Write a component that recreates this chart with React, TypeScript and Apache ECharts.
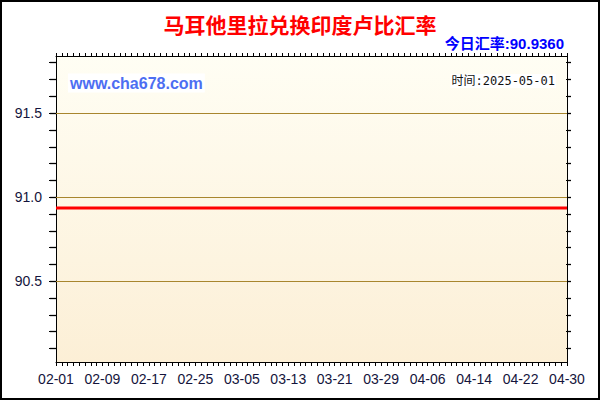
import * as echarts from "echarts";
import React, { useEffect, useRef } from "react";

// 汇率数据（每日）
const months = [
  { m: "02", days: 28 },
  { m: "03", days: 31 },
  { m: "04", days: 30 },
];
const febRates = [
  90.936, 90.936, 90.936, 90.936, 90.936, 90.936, 90.936, 90.936, 90.936, 90.936,
  90.936, 90.936, 90.936, 90.936, 90.936, 90.936, 90.936, 90.936, 90.936, 90.936,
  90.936, 90.936, 90.936, 90.936, 90.936, 90.936, 90.936, 90.936,
];
const marRates = [
  90.936, 90.936, 90.936, 90.936, 90.936, 90.936, 90.936, 90.936, 90.936, 90.936,
  90.936, 90.936, 90.936, 90.936, 90.936, 90.936, 90.936, 90.936, 90.936, 90.936,
  90.936, 90.936, 90.936, 90.936, 90.936, 90.936, 90.936, 90.936, 90.936, 90.936,
  90.936,
];
const aprRates = [
  90.936, 90.936, 90.936, 90.936, 90.936, 90.936, 90.936, 90.936, 90.936, 90.936,
  90.936, 90.936, 90.936, 90.936, 90.936, 90.936, 90.936, 90.936, 90.936, 90.936,
  90.936, 90.936, 90.936, 90.936, 90.936, 90.936, 90.936, 90.936, 90.936, 90.936,
];
const yLabelValues = [90.5, 91.0, 91.5];
const yTickValues = [
  90.1, 90.2, 90.3, 90.4, 90.5, 90.6, 90.7, 90.8, 90.9, 91.0,
  91.1, 91.2, 91.3, 91.4, 91.5, 91.6, 91.7, 91.8,
];
const yMin = 90.02;
const yMax = 91.84;

const title = "马耳他里拉兑换印度卢比汇率";
const todayRate = "今日汇率:90.9360";
const siteText = "www.cha678.com";
const timeText = "时间:2025-05-01";

const dates: string[] = [];
months.forEach(({ m, days }) => {
  for (let d = 1; d <= days; d++) dates.push(`${m}-${String(d).padStart(2, "0")}`);
});
const rates = [...febRates, ...marRates, ...aprRates];

// 左右两侧刻度用的窄网格
const tickYAxis = (gridIndex: number) => ({
  type: "value",
  gridIndex,
  min: yMin,
  max: yMax,
  axisLine: { show: false },
  axisTick: { show: true, length: 1, customValues: yTickValues, lineStyle: { color: "#000" } },
  axisLabel: { show: false },
  splitLine: { show: true, lineStyle: { color: "#000", width: 1.3 } },
});
const tickXAxis = (gridIndex: number) => ({
  type: "value",
  gridIndex,
  min: 0,
  max: 1,
  show: false,
});

export default function App() {
  const chartRef = useRef<HTMLDivElement>(null);

  useEffect(() => {
    if (!chartRef.current) return;
    const chart = echarts.init(chartRef.current, undefined, { renderer: "svg" });

    const option = {
      animation: false,
      backgroundColor: "#ffffff",
      textStyle: { fontFamily: "'Liberation Sans', Arial, sans-serif" },
      grid: [
        {
          left: 56,
          right: 33,
          top: 56,
          bottom: 38,
          show: true,
          borderWidth: 0,
          backgroundColor: new echarts.graphic.LinearGradient(0, 0, 0, 1, [
            { offset: 0, color: "#fffef4" },
            { offset: 1, color: "#fcefd6" },
          ]),
        },
        { left: 50, width: 6, top: 56, bottom: 38 },
        { left: 567, width: 4, top: 56, bottom: 38 },
      ],
      xAxis: [
        {
          type: "category",
          data: dates,
          boundaryGap: false,
          axisLine: { lineStyle: { color: "#000", width: 1 } },
          axisTick: { interval: 0, length: 4, lineStyle: { color: "#000" } },
          axisLabel: {
            interval: 7,
            margin: 10,
            fontSize: 14,
            color: "#14143c",
            fontFamily: "'Liberation Sans', Arial, sans-serif",
          },
          splitLine: { show: false },
        },
        {
          type: "category",
          data: dates,
          position: "top",
          boundaryGap: false,
          axisLine: { lineStyle: { color: "#000", width: 1 } },
          axisTick: { interval: 0, length: 3, lineStyle: { color: "#000" } },
          axisLabel: { show: false },
          splitLine: { show: false },
        },
        tickXAxis(1),
        tickXAxis(2),
      ],
      yAxis: [
        {
          type: "value",
          min: yMin,
          max: yMax,
          splitNumber: 4,
          axisLine: { show: true, lineStyle: { color: "#000", width: 1 } },
          axisTick: { show: false },
          axisLabel: {
            customValues: yLabelValues,
            formatter: (v: number) => v.toFixed(1),
            margin: 14,
            fontSize: 14,
            color: "#14143c",
            fontFamily: "'Liberation Sans', Arial, sans-serif",
          },
          splitLine: { show: false },
        },
        {
          type: "value",
          position: "right",
          min: yMin,
          max: yMax,
          splitNumber: 4,
          axisLine: { show: true, lineStyle: { color: "#000", width: 1 } },
          axisTick: { show: false },
          axisLabel: { show: false },
          splitLine: { show: false },
        },
        tickYAxis(1),
        tickYAxis(2),
      ],
      graphic: [
        {
          type: "rect",
          silent: true,
          shape: { x: 1, y: 1, width: 598, height: 398 },
          style: { fill: "none", stroke: "#000", lineWidth: 2 },
          z: 100,
        },
        {
          type: "text",
          x: 300,
          y: 24,
          style: {
            text: title,
            fill: "#ff0000",
            font: "bold 21px 'Noto Sans CJK SC', sans-serif",
            textAlign: "center",
            align: "center",
            textVerticalAlign: "middle",
            verticalAlign: "middle",
          },
        },
        {
          type: "text",
          x: 564,
          y: 43,
          style: {
            text: todayRate,
            fill: "#0000ff",
            font: "bold 15px 'Liberation Sans', 'Noto Sans CJK SC', sans-serif",
            textAlign: "right",
            align: "right",
            textVerticalAlign: "middle",
            verticalAlign: "middle",
          },
        },
        {
          type: "text",
          x: 68,
          y: 83,
          z: 10,
          style: {
            text: siteText,
            fill: "#4d6ef2",
            font: "bold 16px 'Liberation Sans', Arial, sans-serif",
            textAlign: "left",
            align: "left",
            textVerticalAlign: "middle",
            verticalAlign: "middle",
            backgroundColor: "#ffffff",
            padding: [2, 2, 1, 2],
          },
        },
        {
          type: "text",
          x: 556,
          y: 81,
          z: 10,
          style: {
            text: timeText,
            fill: "#111111",
            font: "12px 'DejaVu Sans Mono', 'Noto Sans CJK SC', monospace",
            textAlign: "right",
            align: "right",
            textVerticalAlign: "middle",
            verticalAlign: "middle",
            backgroundColor: "#ffffff",
            padding: [1, 1, 1, 1],
          },
        },
      ],
      series: [
        {
          name: "汇率",
          type: "line",
          xAxisIndex: 0,
          yAxisIndex: 0,
          data: rates,
          showSymbol: false,
          lineStyle: { color: "#ff0000", width: 3 },
          z: 5,
          markLine: {
            silent: true,
            symbol: "none",
            label: { show: false },
            lineStyle: { color: "#a8862e", type: "solid", width: 1 },
            data: yLabelValues.map((v) => ({ yAxis: v })),
          },
        },
      ],
    };
    chart.setOption(option);

    return () => {
      chart.dispose();
    };
  }, []);

  return (
    <div
      ref={chartRef}
      style={{ position: "absolute", left: 0, top: 0, width: "600px", height: "400px" }}
    ></div>
  );
}
